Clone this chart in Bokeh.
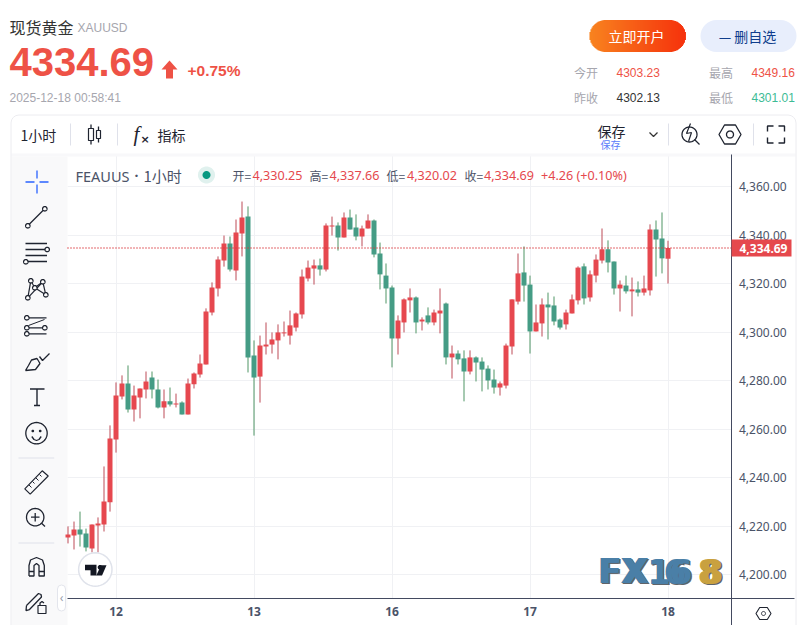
import math
from bokeh.embed import file_html
from bokeh.resources import INLINE
from bokeh.plotting import figure
from bokeh.models import (Range1d, Label, PolyAnnotation, BoxAnnotation, FixedTicker,
                          NumeralTickFormatter, ColumnDataSource)

open_ = [4215.4,4216.3,4218.7,4217.1,4210.9,4220.4,4220.8,4229.9,4255.8,4273.5,4278.9,4268.2,4273.1,4276.4,4281.3,4276.4,4269.0,4271.5,4270.2,4271.0,
4266.1,4278.5,4282.6,4286.7,4308.1,4318.0,4329.5,4336.5,4325.4,4340.6,4347.6,4290.4,4281.7,4294.1,4294.9,4296.6,4299.5,4298.6,4301.9,4307.3,
4322.1,4326.2,4327.5,4325.8,4343.5,4343.9,4339.0,4347.2,4343.1,4339.4,4342.7,4346.0,4332.4,4323.3,4318.4,4297.4,4304.0,4313.1,4314.3,4304.4,
4306.9,4304.0,4307.7,4311.8,4289.6,4291.2,4289.2,4283.8,4289.6,4287.9,4285.0,4280.5,4277.2,4278.0,4294.1,4312.6,4324.6,4319.6,4300.3,4303.6,
4311.4,4311.0,4305.2,4303.2,4307.7,4313.1,4327.1,4314.3,4323.3,4329.5,4334.1,4329.1,4318.0,4319.2,4316.8,4317.6,4316.3,4317.2,4342.3,4338.6,4330.25]
high = [4220.0,4222.0,4226.1,4219.1,4220.8,4223.7,4244.7,4261.6,4279.3,4282.2,4286.3,4278.0,4276.8,4283.8,4283.8,4280.5,4276.4,4277.2,4274.7,4271.5,
4280.9,4283.4,4290.8,4309.8,4320.5,4331.2,4339.8,4339.4,4346.4,4353.8,4351.8,4296.6,4298.6,4304.0,4299.9,4303.2,4304.4,4308.9,4308.1,4325.8,
4329.5,4329.9,4330.3,4344.8,4347.6,4345.2,4349.3,4350.5,4348.5,4343.9,4348.5,4346.4,4336.9,4328.3,4319.2,4306.9,4313.9,4318.0,4314.7,4306.1,
4310.2,4309.3,4318.0,4312.2,4294.5,4292.5,4292.5,4292.5,4290.0,4289.6,4286.3,4284.6,4279.7,4295.3,4313.5,4332.4,4335.3,4323.3,4311.4,4313.9,
4316.3,4314.7,4305.6,4309.3,4315.5,4327.1,4328.3,4325.4,4332.0,4342.7,4337.8,4329.1,4321.3,4323.3,4322.5,4320.9,4323.3,4344.4,4346.0,4349.3,4337.66]
low = [4213.0,4210.5,4211.7,4209.7,4209.3,4209.3,4217.9,4226.1,4250.4,4272.3,4266.9,4263.2,4264.5,4272.7,4272.7,4268.6,4264.5,4269.4,4269.0,4266.1,
4266.1,4276.8,4281.3,4286.7,4306.9,4314.7,4327.0,4325.0,4321.3,4331.2,4283.4,4257.4,4271.0,4290.8,4291.2,4288.8,4298.2,4294.9,4300.3,4305.6,
4320.9,4319.6,4323.3,4325.0,4339.8,4333.6,4339.0,4342.3,4337.8,4335.3,4342.7,4330.8,4317.6,4311.8,4285.5,4290.8,4299.9,4308.1,4299.5,4300.7,
4303.2,4302.8,4299.5,4286.7,4280.9,4286.7,4271.5,4282.6,4279.7,4275.6,4276.4,4274.7,4273.9,4276.8,4290.8,4311.4,4312.6,4291.2,4300.3,4298.2,
4297.0,4302.8,4301.1,4301.1,4307.7,4311.4,4311.4,4312.6,4320.5,4328.3,4324.6,4315.5,4308.5,4315.9,4306.5,4314.7,4315.1,4315.1,4322.9,4324.2,4320.02]
close = [4216.7,4218.7,4216.7,4211.3,4220.8,4221.2,4230.3,4256.2,4273.9,4278.9,4268.2,4273.9,4276.8,4279.7,4276.4,4269.0,4271.5,4270.2,4270.6,4266.1,
4278.9,4283.0,4287.1,4308.5,4318.4,4329.9,4336.5,4325.8,4341.1,4347.2,4289.6,4281.3,4294.5,4294.9,4297.0,4299.9,4299.9,4302.8,4307.7,4322.9,
4326.6,4327.5,4325.8,4343.9,4343.9,4339.0,4347.2,4342.3,4339.4,4342.7,4346.0,4332.0,4323.8,4318.0,4297.4,4304.8,4313.5,4314.3,4304.0,4305.2,
4304.0,4308.1,4308.9,4289.6,4291.2,4288.8,4283.8,4289.6,4287.5,4284.6,4280.1,4277.2,4278.9,4294.5,4313.5,4324.2,4319.2,4300.3,4304.0,4311.4,
4310.2,4304.4,4301.9,4308.1,4313.5,4326.6,4313.9,4323.8,4329.9,4334.1,4328.7,4318.0,4319.6,4316.8,4317.6,4316.3,4318.0,4342.3,4338.2,4330.4,4334.69]
day_ticks = [8, 31, 54, 77, 100]
day_labels = ["12", "13", "16", "17", "18"]
price_ticks = [4200, 4220, 4240, 4260, 4280, 4300, 4320, 4340, 4360]

CJK = "Noto Sans CJK SC"
ARIAL = "Liberation Sans"
NOTO = "Noto Sans"
INK = "#4b5368"
RED_TXT = "#e5484d"
GREY = "#a6a6ae"
ICON = "#1f2430"
OFF = 1

# the frame fills the page so that the header and tool strips can sit around the price area
p = figure(width=806, height=625, min_border=0, y_axis_location="right",
           x_range=Range1d(-11.25, 123.083), y_range=Range1d(4179.19, 4436.6),
           output_backend="svg", toolbar_location=None, outline_line_color=None,
           background_fill_color="white", border_fill_color="white")

PLOT_X = (-0.083, 110.5)
PLOT_Y = (4190.11, 4373.18)
p.xaxis.fixed_location = PLOT_Y[0]
p.yaxis.fixed_location = PLOT_X[1]
p.xaxis.bounds = (PLOT_X[0], 121.1)
p.yaxis.bounds = (4179.19, PLOT_Y[1])
p.xaxis.ticker = FixedTicker(ticks=day_ticks)
p.xaxis.major_label_overrides = dict(zip(day_ticks, day_labels))
p.yaxis.ticker = FixedTicker(ticks=price_ticks)
p.yaxis.formatter = NumeralTickFormatter(format="0,0.00")
for ax in (p.xaxis, p.yaxis):
    ax.axis_line_color = "#434a60"
    ax.axis_line_width = 1
    ax.major_tick_line_color = None
    ax.minor_tick_line_color = None
    ax.major_label_text_color = INK
    ax.major_label_text_font = NOTO
    ax.major_label_text_font_size = "12px"
p.yaxis.major_label_standoff = 2
p.xaxis.major_label_standoff = 2
p.xaxis.major_label_text_font_style = "bold"
p.xgrid.cross_bounds = PLOT_Y
p.ygrid.cross_bounds = PLOT_X
p.grid.grid_line_color = "#f0f1f4"
p.grid.grid_line_width = 1

idx = list(range(len(close)))
rising = [c >= o for o, c in zip(open_, close)]
src = ColumnDataSource(dict(
    x=idx, high=high, low=low,
    top=[max(o, c) for o, c in zip(open_, close)],
    bottom=[min(o, c) for o, c in zip(open_, close)],
    body=["#e6484f" if r else "#459c85" for r in rising],
    wick=["#bd4a56" if r else "#4f9565" for r in rising]))
p.segment("x", "high", "x", "low", source=src, line_color="wick", line_width=1)
p.vbar("x", 5 / 6, "top", "bottom", source=src, fill_color="body", line_color=None)
p.segment([PLOT_X[0]], [close[-1]], [PLOT_X[1]], [close[-1]], line_color="#d9383f", line_dash="1 2", line_width=1.4)

# ---- helpers in page pixels
def T(x, y, s, size=12, color=ICON, font=CJK, style="normal", align="left"):
    p.add_layout(Label(x=x - OFF, y=y - OFF, x_units="canvas", y_units="canvas", text=s, text_font=font,
                       text_font_size=f"{size}px", text_color=color, text_font_style=style,
                       text_align=align, text_baseline="middle"))

def poly(pts, fill=None, line=None, w=1.3):
    p.add_layout(PolyAnnotation(xs=[a - OFF for a, _ in pts], ys=[b - OFF for _, b in pts],
                                xs_units="canvas", ys_units="canvas",
                                fill_color=fill or "white", fill_alpha=1 if fill else 0,
                                line_color=line or "white", line_alpha=1 if line else 0, line_width=w))

def L(pts, color=ICON, w=1.3):
    poly(list(pts) + list(reversed(pts))[1:-1], None, color, w)

def C(cx, cy, r, fill=None, line=ICON, w=1.3):
    poly([(cx + r * math.cos(t / 20 * math.pi), cy + r * math.sin(t / 20 * math.pi)) for t in range(40)], fill, line, w)

def B(l, t, r, b, fill=None, line=None, w=1, radius=0, level="annotation"):
    p.add_layout(BoxAnnotation(left=l - OFF, right=r - OFF, top=t - OFF, bottom=b - OFF, left_units="canvas",
                               right_units="canvas", top_units="canvas", bottom_units="canvas",
                               fill_color=fill or "white", fill_alpha=1 if fill else 0,
                               line_color=line or "white", line_alpha=1 if line else 0, line_width=w,
                               border_radius=radius, level=level))

# ---- chart frame
B(11.5, 115.5, 796.5, 640, None, "#ececf0", 1, 8)
B(12, 154, 796, 157, "#f8f8fa", level="underlay")
B(12, 157, 68, 626, "#f9f9fa", level="underlay")

# ---- header
T(10, 27, "现货黄金", 16, "#333333")
T(78, 28, "XAUUSD", 12, GREY, ARIAL)
T(10, 62, "4334.69", 40, "#ee5246", ARIAL, "bold")
poly([(170, 61), (178, 70), (173.5, 70), (173.5, 79), (166.5, 79), (166.5, 70), (162, 70)], "#ee5246")
T(188, 71, "+0.75%", 15.5, "#ee5246", ARIAL, "bold")
T(10, 98, "2025-12-18 00:58:41", 12, GREY, ARIAL)

# ---- buttons
for k in range(96):
    x0 = 590 + k
    dx = max(0.0, 16 - min(x0 + 0.5 - 590, 686 - x0 - 0.5))
    h = math.sqrt(max(0.0, 256 - dx * dx))
    f = k / 95
    col = "#%02x%02x%02x" % (int(249 - 4 * f), int(125 - 85 * f), int(20 - 20 * f))
    poly([(x0, 36.5 - h), (x0 + 1.4, 36.5 - h), (x0 + 1.4, 36.5 + h), (x0, 36.5 + h)], col)
T(637, 36, "立即开户", 14, "white", CJK, "normal", "center")
B(701, 20.5, 797, 52.5, "#e8eefc", None, 1, 16)
T(748, 36, "— 删自选", 14, "#0f3d8c", CJK, "normal", "center")

# ---- stat block
T(574.5, 73, "今开", 12, GREY)
T(617, 73, "4303.23", 12, "#ee5246", ARIAL)
T(709.5, 73, "最高", 12, GREY)
T(752, 73, "4349.16", 12, "#ee5246", ARIAL)
T(574.5, 97.5, "昨收", 12, GREY)
T(617, 97.5, "4302.13", 12, "#333333", ARIAL)
T(709.5, 97.5, "最低", 12, GREY)
T(752, 97.5, "4301.01", 12, "#3dbb95", ARIAL)

# ---- top toolbar
T(21, 135, "1小时", 14, ICON)
for sx in (71, 118, 669, 754):
    L([(sx, 124), (sx, 146)], "#dfe1ea", 1)
B(89, 129, 94, 141, None, ICON, 1.2)
L([(91.5, 125), (91.5, 129)]); L([(91.5, 141), (91.5, 145)])
B(97, 131, 101, 139, None, ICON, 1.2)
L([(99, 127), (99, 131)]); L([(99, 139), (99, 143)])
T(134, 134, "f", 21, ICON, "Liberation Serif", "italic")
T(141, 140, "×", 11, ICON, "DejaVu Sans", "bold")
T(158, 135, "指标", 14, ICON)
T(598, 131, "保存", 14, ICON)
T(611, 145, "保存", 10, "#5b7cfa", CJK, "normal", "center")
L([(650, 133), (654, 137), (658, 133)], "#333333", 1.2)
C(690, 135, 7.5)
L([(691, 124), (687, 134), (692, 133), (689, 142)], ICON, 1.2)
L([(695, 140), (700, 145)])
poly([(719.5, 135), (725, 125.5), (736, 125.5), (741.5, 135), (736, 144.5), (725, 144.5), (719.5, 135)], None, ICON, 1.3)
C(730.5, 135, 3.5)
for a, b, c in (((768, 132), (768, 126.5), (774, 126.5)), ((779, 126.5), (785, 126.5), (785, 132)),
                ((768, 138), (768, 143.5), (774, 143.5)), ((779, 143.5), (785, 143.5), (785, 138))):
    L([a, b, c], ICON, 1.4)

# ---- legend row
T(76, 176, "FEAUUS", 14.5, INK, NOTO)
T(135, 176, "·", 14, INK, NOTO, "bold")
T(144, 176, "1小时", 15, INK)
C(207, 175.5, 8.5, "#e0f1ee", None)
C(207, 175.5, 4, "#089981", None)
for x, s, c in ((233, "开=", INK), (253, "4,330.25", RED_TXT), (310, "高=", INK), (330, "4,337.66", RED_TXT),
                (387, "低=", INK), (407.5, "4,320.02", RED_TXT), (465, "收=", INK), (484.5, "4,334.69", RED_TXT),
                (541.5, "+4.26 (+0.10%)", RED_TXT)):
    T(x, 176, s, 12.6 if c == RED_TXT else 12, c, NOTO if c == RED_TXT else CJK)

# ---- last price tag
B(732, 240, 792, 257, "#e5484d")
T(740, 248.5, "4,334.69", 12, "white", NOTO, "bold")

# ---- left drawing tools
BLUE = "#2962ff"
L([(26, 182.5), (35, 182.5)], BLUE); L([(40, 182.5), (49, 182.5)], BLUE)
L([(37.5, 171), (37.5, 179)], BLUE); L([(37.5, 185), (37.5, 194)], BLUE)
L([(29.5, 225), (44, 210.5)])
C(45.3, 209.3, 2.2, "white"); C(28.3, 226.3, 2.2, "white")
for y in (244, 250, 256, 262):
    L([(26, y), (47.5, y)])
C(47.7, 250, 2.2, "white"); C(26.3, 262.3, 2.2, "white")
net = {"a": (31.3, 281.3), "b": (43.3, 282.3), "c": (35.3, 288.3), "d": (28.3, 298.3), "e": (46.3, 295.3)}
for u, v in ("da", "ac", "cb", "be", "ce", "db"):
    L([net[u], net[v]], ICON, 1.2)
for k in net.values():
    C(k[0], k[1], 2.2, "white")
for y in (318.3, 328.3, 334.3):
    L([(27, y), (47, y)])
L([(29, 326), (45, 320)], ICON, 1)
for cx, cy in ((27.3, 318.3), (27.3, 328.3), (45.3, 328.3), (27.3, 334.3)):
    C(cx, cy, 2.2, "white")
L([(26, 371), (36, 370), (40.5, 364), (37.5, 359), (32, 360.5), (29, 366), (26, 371)])
L([(40, 357), (43, 361), (50, 354)])
L([(30.5, 389.5), (45, 389.5)], ICON, 1.5); L([(37.5, 389.5), (37.5, 406)], ICON, 1.4); L([(34.5, 406), (40.5, 406)])
C(37, 433.7, 10.7)
C(33.3, 431.5, 0.7, ICON); C(40.7, 431.5, 0.7, ICON)
L([(32.3, 437), (34.5, 440), (37, 441), (39.5, 440), (41.7, 437)])
L([(19, 458.5), (54.7, 458.5)], "#dfe1ea", 1)
poly([(25.3, 489.3), (42.7, 471.3), (48.7, 476.5), (30.7, 494.7), (25.3, 489.3)], None, ICON, 1.2)
for a, b in (((29.5, 485.5), (32, 488)), ((33, 482), (35, 484)), ((36.5, 478.5), (39, 481)), ((40, 475), (42, 477))):
    L([a, b], ICON, 1)
C(35.7, 517.7, 8.7)
L([(31.5, 517.7), (40, 517.7)]); L([(35.7, 513.5), (35.7, 522)])
L([(41.8, 523.5), (45.5, 527)])
L([(19, 543.5), (54.7, 543.5)], "#dfe1ea", 1)
L([(29.5, 576.5), (29.5, 566), (31, 560.5), (37, 558), (43, 560.5), (44.8, 566), (44.8, 576.5), (39.5, 576.5),
   (39.5, 566), (37, 564), (34.5, 566), (34.5, 576.5), (29.5, 576.5)])
L([(29.5, 572), (34.5, 572)]); L([(39.5, 572), (44.8, 572)])
L([(27, 606), (39, 594), (41.5, 595), (42, 597.5), (30, 610), (26.5, 611), (27, 606)])
B(38.5, 606, 46.5, 614, None, ICON, 1.2)
L([(40.5, 606), (40.5, 603.5), (42.5, 602), (44.5, 603.5)])

# ---- collapse button
B(58, 585.5, 66, 611.5, "white", "#e3e5ec", 1, 4)
T(62, 598, "‹", 12, "#9aa0ad", NOTO, "normal", "center")

# ---- trading view badge
C(95.8, 570, 16.7, "white", "#e0e3eb", 1.5)
poly([(85.5, 565.3), (97, 565.3), (97, 576), (91, 576), (91, 570.8), (85.5, 570.8)], "#131722")
C(100.5, 567.8, 2.3, "#131722", None)
poly([(101.5, 565.8), (107, 565.8), (102.5, 576), (96.8, 576)], "#131722")

# ---- FX168 mark
FX = (("F", 598, "#4a7fa7", 2), ("X", 621, "#4a7fa7", 3), ("1", 648, "#4a7fa7", 0), ("6", 664, "#4a7fa7", 6), ("8", 698, "#c9a13f", 3))
for s, x, c, wide in FX:
    T(x + 1.2, 573, s, 33, "#5f6469", "DejaVu Sans", "bold")
    T(x + wide + 1.2, 573, s, 33, "#5f6469", "DejaVu Sans", "bold")
for s, x, c, wide in FX:
    T(x, 572, s, 33, c, "DejaVu Sans", "bold")
    T(x + wide, 572, s, 33, c, "DejaVu Sans", "bold")

# ---- bottom right settings icon
poly([(756.5, 614), (760.2, 608), (767.8, 608), (771.5, 614), (767.8, 620), (760.2, 620), (756.5, 614)], None, ICON, 1.1)
C(764, 614, 2, None, ICON, 1)

open("out.html", "w").write(file_html(p, INLINE))
